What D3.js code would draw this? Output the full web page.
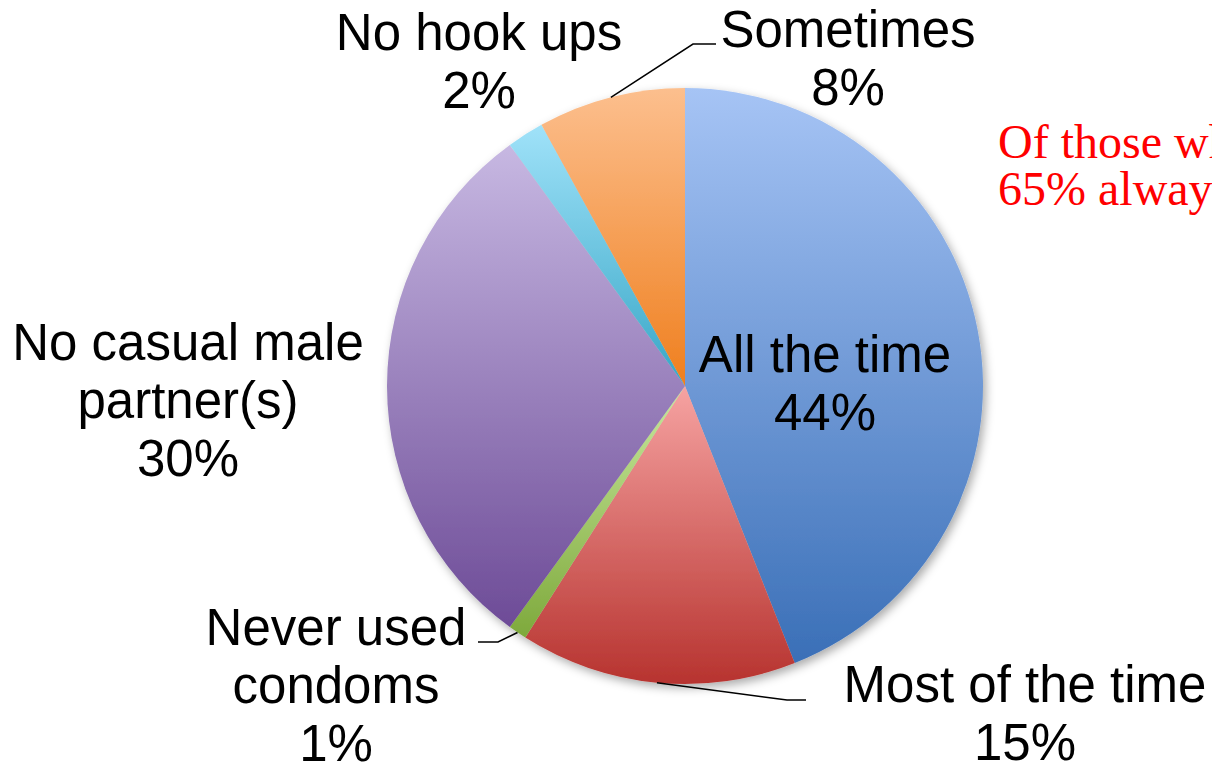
<!DOCTYPE html>
<html><head><meta charset="utf-8">
<script src="https://cdn.jsdelivr.net/npm/d3@7"></script>
<style>html,body{margin:0;padding:0;background:#fff;overflow:hidden}</style>
</head><body>
<svg id="c" width="1212" height="765"></svg>
<script>
const categories = ["All the time","Most of the time","Never used condoms","No casual male partner(s)","No hook ups","Sometimes"];
const values = [44, 15, 1, 30, 2, 8];
const labelLines = [["All the time","44%"],["Most of the time","15%"],["Never used","condoms","1%"],["No casual male","partner(s)","30%"],["No hook ups","2%"],["Sometimes","8%"]];
const colorTop = ["#a6c4f5","#f6a3a2","#c8e89d","#c7b8e2","#a0e2f9","#fcbf8e"];
const colorBottom = ["#3a6fb7","#b7332f","#7ea93c","#6d4b97","#37a6c6","#ef7f1e"];

const W = 1212, H = 765, cx = 685, cy = 386, R = 298;
const svg = d3.select("#c");
const defs = svg.append("defs");
const f = defs.append("filter").attr("id","sh").attr("x","-20%").attr("y","-20%").attr("width","140%").attr("height","140%");
f.append("feDropShadow").attr("dx",3).attr("dy",4).attr("stdDeviation",5).attr("flood-color","#000").attr("flood-opacity",0.33);
categories.forEach((c,i)=>{
  const g = defs.append("linearGradient").attr("id","g"+i).attr("x1",0).attr("y1",0).attr("x2",0).attr("y2",1);
  g.append("stop").attr("offset","0%").attr("stop-color",colorTop[i]);
  g.append("stop").attr("offset","100%").attr("stop-color",colorBottom[i]);
});

const pie = d3.pie().sort(null).value(d=>d);
const arcs = pie(values);
const arc = d3.arc().innerRadius(0).outerRadius(R);
const edge = d3.arc().innerRadius(R).outerRadius(R);

const gp = svg.append("g").attr("transform",`translate(${cx},${cy})`);
gp.append("g").attr("filter","url(#sh)").selectAll("path").data(arcs).join("path")
  .attr("d",arc).attr("fill",(d,i)=>`url(#g${i})`);

// label placement (text anchor centre, first baseline) and leader elbows
const labelPos = [
  {x:825, y:372, leader:null},
  {x:1025, y:702, leader:{elbow:[787,700], end:[806,700]}},
  {x:336, y:645, leader:{elbow:[498,642], end:[478,642]}},
  {x:188, y:360, leader:null},
  {x:479, y:50, leader:null},
  {x:848, y:47, leader:{elbow:[693,44], end:[716,44]}}
];
const lineH = 58;

arcs.forEach((a,i)=>{
  const p = labelPos[i];
  if (p.leader){
    const s = edge.centroid(a);
    const pts = [[s[0]+cx, s[1]+cy], p.leader.elbow, p.leader.end];
    svg.append("path").attr("d", d3.line()(pts)).attr("fill","none").attr("stroke","#000").attr("stroke-width",1.5);
  }
  const t = svg.append("text").attr("x",p.x).attr("y",p.y).attr("text-anchor","middle")
    .attr("font-family","Liberation Sans, Arial, sans-serif").attr("font-size",51).attr("fill","#000");
  labelLines[i].forEach((l,k)=>{
    t.append("tspan").attr("x",p.x).attr("y",p.y + k*lineH).text(l);
  });
});

const note = ["Of those who hooked up,","65% always used condoms"];
const nt = svg.append("text").attr("font-family","Liberation Serif, Times New Roman, serif").attr("font-size",48).attr("fill","#ff0000");
note.forEach((l,k)=> nt.append("tspan").attr("x",998).attr("y",158 + k*47).text(l));
</script>
</body></html>
